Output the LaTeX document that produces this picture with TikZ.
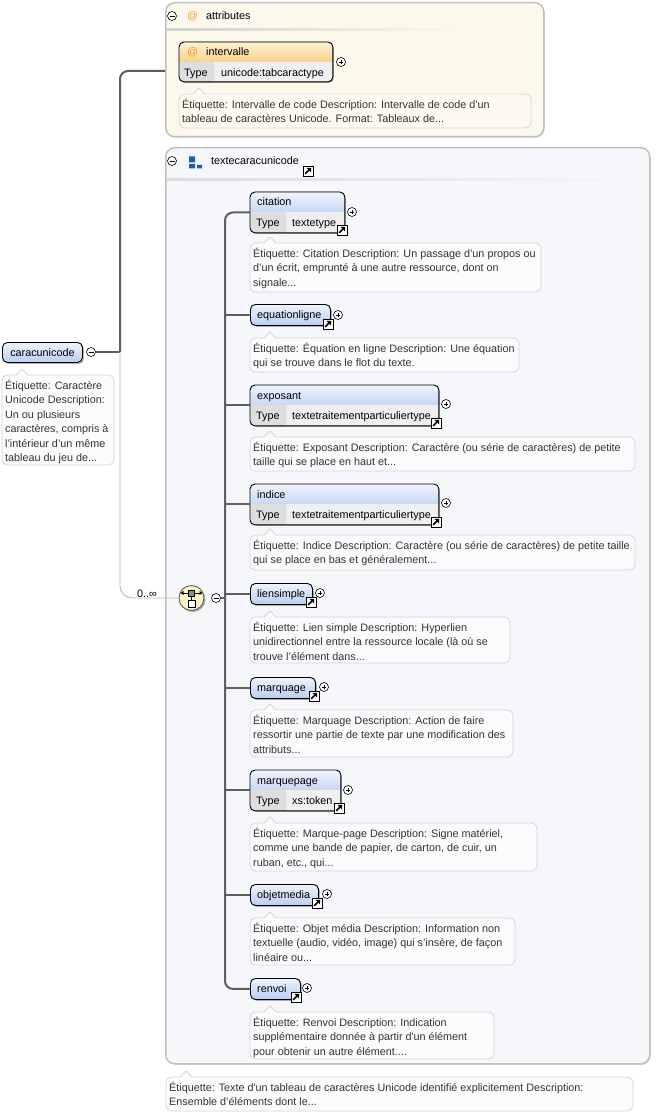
\documentclass[tikz,border=0pt]{standalone}
\usepackage{fontspec}
\setmainfont{Liberation Sans}[Ligatures=TeXOff]
\usetikzlibrary{shadows,calc}
\definecolor{connc}{HTML}{5E5E5E}
\definecolor{thinc}{HTML}{B8B8B8}
\definecolor{attrfill}{HTML}{FDF8EC}
\definecolor{grpfill}{HTML}{F6F7FB}
\definecolor{grpborder}{HTML}{C0C0C0}
\definecolor{blutop}{HTML}{EEF3FC}
\definecolor{blubot}{HTML}{B9CEF1}
\definecolor{hdtop}{HTML}{F0F4FC}
\definecolor{hdbot}{HTML}{C6D7F4}
\definecolor{typecell}{HTML}{DEDEDE}
\definecolor{valcell}{HTML}{EFEFEF}
\definecolor{orgtop}{HTML}{FEF0D4}
\definecolor{orgbot}{HTML}{F8D38C}
\definecolor{atc}{HTML}{E9A21F}
\definecolor{anntext}{HTML}{333333}
\definecolor{annborder}{HTML}{D6D6D6}
\definecolor{annfa}{HTML}{FEFAF1}
\definecolor{annfb}{HTML}{FBFBFD}
\definecolor{annfw}{HTML}{FCFCFC}
\definecolor{choicefill}{HTML}{FBF5C6}
\definecolor{iconblue}{HTML}{1F5FAA}

\newcommand\annot[7]{%
 \filldraw[fill=#6, draw=annborder, line width=0.8pt, rounded corners=6pt] (#2,#3) rectangle (#4,#5);
 \fill[#6] (#2+14,#3+1) -- (#2+20,#3-6) -- (#2+26,#3+1) -- cycle;
 \draw[annborder, line width=0.8pt] (#2+14,#3) -- (#2+20,#3-6) -- (#2+26,#3);
 \node[anntxt] (#1) at (#2+3,#3+5) {#7};}
\newcommand\plusc[2]{\node[pm] (#1) at (#2) {};
 \draw[line width=0.7pt] ([xshift=-2.3pt]#1.center) -- ([xshift=2.3pt]#1.center) ([yshift=-2.3pt]#1.center) -- ([yshift=2.3pt]#1.center);}
\newcommand\minusc[2]{\node[pm] (#1) at (#2) {};
 \draw[line width=0.7pt] ([xshift=-2.5pt]#1.center) -- ([xshift=2.5pt]#1.center);}
\newcommand\scico[2]{\node[sc] (#1) at (#2) {};
 \draw[line width=1.5pt] ([shift={(-2.8pt,-2.8pt)}]#1.center) -- ([shift={(1.2pt,1.2pt)}]#1.center);
 \fill ([shift={(3.2pt,3.2pt)}]#1.center) -- ([shift={(-1.6pt,3.2pt)}]#1.center) -- ([shift={(3.2pt,-1.6pt)}]#1.center) -- cycle;}
\newcommand\selem[5]{\node[selemnode, minimum width=#4pt] (#1) at (#2,#3) {};
 \node[lbl] (#1-l) at ([shift={(7pt,-4pt)}]#1.west) {#5};}
\newcommand\telem[6]{%
 \node[telemnode, minimum width=#4pt] (#1) at (#2,#3) {};
 \begin{scope}
 \clip[rounded corners=5pt] (#1.north west) rectangle (#1.south east);
 \shade[top color=hdtop, bottom color=hdbot] (#1.north west) rectangle (#1.east);
 \fill[typecell] (#1.west) rectangle ([xshift=36pt]#1.south west);
 \fill[valcell] ([xshift=36pt]#1.west) rectangle (#1.south east);
 \end{scope}
 \draw[line width=0.9pt, rounded corners=5pt] (#1.north west) rectangle (#1.south east);
 \node[lbl] (#1-l) at ([shift={(7pt,-14pt)}]#1.north west) {#5};
 \node[lbl] (#1-t) at ([shift={(6pt,-34.5pt)}]#1.north west) {Type};
 \node[lbl] (#1-v) at ([shift={(42pt,-34.5pt)}]#1.north west) {#6};}

\begin{document}
\begin{tikzpicture}[x=1pt,y=-1pt,
 every node/.style={font=\fontsize{10.8}{14.4}\selectfont},
 lbl/.style={anchor=base west, inner sep=0pt, text=black},
 anntxt/.style={anchor=north west, inner sep=0pt, align=left, text=anntext},
 conn/.style={draw=connc, line width=2pt},
 thinconn/.style={draw=thinc, line width=0.9pt},
 pm/.style={circle, draw=black, line width=0.6pt, fill=white, minimum size=9pt, inner sep=0pt},
 sc/.style={rectangle, draw=black, line width=0.8pt, fill=white, minimum size=10pt, inner sep=0pt},
 shd/.style={drop shadow={shadow xshift=1.5pt, shadow yshift=-1.5pt, opacity=0.3, fill=black}},
 lshd/.style={drop shadow={shadow xshift=1pt, shadow yshift=-1pt, opacity=0.15, fill=black}},
 grpnode/.style={anchor=north west, rectangle, rounded corners=9pt, draw=grpborder, line width=1.5pt, inner sep=0pt, lshd},
 selemnode/.style={anchor=north west, rectangle, rounded corners=5pt, draw=black, line width=0.9pt, top color=blutop, bottom color=blubot, minimum height=21pt, inner sep=0pt, shd},
 telemnode/.style={anchor=north west, rectangle, rounded corners=5pt, draw=black, line width=0.9pt, fill=white, minimum height=40pt, inner sep=0pt, shd}]
\useasboundingbox (0,0) rectangle (667,1115);
\fill[white] (0,0) rectangle (667,1115);

% ---------- attributes group ----------
\node[grpnode, fill=attrfill, minimum width=378pt, minimum height=134pt] (attrbox) at (165,2) {};
\minusc{attrminus}{172,16}
\node[lbl, text=atc] (attrat) at (187,20) {@};
\node[lbl] (attrlbl) at (206,20) {attributes};
\shade[left color=black!18, right color=attrfill] (167,29) rectangle (460,31);

\node[telemnode, minimum width=153pt, minimum height=39pt] (intervalle) at (179,42) {};
\begin{scope}
 \clip[rounded corners=5pt] (intervalle.north west) rectangle (intervalle.south east);
 \shade[top color=orgtop, bottom color=orgbot] (intervalle.north west) rectangle (intervalle.east);
 \fill[typecell] (intervalle.west) rectangle ([xshift=35pt]intervalle.south west);
 \fill[valcell] ([xshift=35pt]intervalle.west) rectangle (intervalle.south east);
\end{scope}
\draw[line width=0.9pt, rounded corners=5pt] (intervalle.north west) rectangle (intervalle.south east);
\node[lbl, text=atc] (intervalle-at) at (187,56) {@};
\node[lbl] (intervalle-l) at (206,56) {intervalle};
\node[lbl] (intervalle-t) at (184,76.5) {Type};
\node[lbl] (intervalle-v) at (221,76.5) {unicode:tabcaractype};
\plusc{intervalle-p}{341,62}
\annot{intervalle-a}{179}{94}{531}{128}{annfa}{Étiquette: Intervalle de code Description: Intervalle de code d’un\\tableau de caractères Unicode. Format: Tableaux de...}

% ---------- textecaracunicode group ----------
\node[grpnode, fill=grpfill, minimum width=484pt, minimum height=916pt] (txtbox) at (165,147) {};
\minusc{txtminus}{172,161}
\fill[iconblue] (189,156.5) rectangle (195,162.5) (189,164) rectangle (195,168.5) (197,165) rectangle (202,168.5);
\node[lbl] (txtlbl) at (211,165) {textecaracunicode};
\scico{txtsc}{308,171}
\shade[left color=black!14, right color=grpfill] (167,179) rectangle (640,181);

% ---------- root ----------
\node[selemnode, minimum width=80pt, minimum height=20pt] (caracunicode) at (2,342) {};
\node[anchor=base, inner sep=0pt] (caracunicode-l) at ([yshift=-4pt]caracunicode.center) {caracunicode};
\minusc{cmin}{91,352}
\annot{caracunicode-a}{2}{375}{114}{465}{annfw}{Étiquette: Caractère\\Unicode Description:\\Un ou plusieurs\\caractères, compris à\\l’intérieur d’un même\\tableau du jeu de...}

\coordinate (jn) at (120,352);
\coordinate (attrin) at (165,71);
\draw[conn] (cmin.east) -- (jn);
\draw[conn, rounded corners=8pt] (jn) |- (attrin);

% ---------- choice ----------
\node[circle, draw=connc, line width=0.9pt, fill=choicefill, minimum size=25pt, inner sep=0pt, shd] (choice) at (191.5,598) {};
\draw[line width=0.8pt] (182,593) -- (201,593);
\fill (180.5,593) -- (183.5,591) -- (183.5,595) -- cycle;
\fill (202.5,593) -- (199.5,591) -- (199.5,595) -- cycle;
\filldraw[fill=black!45, draw=black, line width=0.6pt] (188.5,590) rectangle (194.5,596);
\draw[line width=0.6pt] (191.5,596) -- (191.5,600);
\filldraw[fill=white, draw=black, line width=0.6pt] (188,600) rectangle (195,607);
\minusc{chminus}{216,598}
\draw[thinconn, rounded corners=12pt] (jn) |- (choice.west);
\node[lbl] (card) at (137,597) {0..∞};

% ---------- elements ----------
\telem{citation}{250}{192}{94}{citation}{textetype}
\plusc{citation-p}{352,212}
\scico{citation-sc}{342,230}
\annot{citation-a}{250}{243}{541}{292}{annfb}{Étiquette: Citation Description: Un passage d’un propos ou\\d’un écrit, emprunté à une autre ressource, dont on\\signale...}

\selem{equationligne}{250}{304}{80}{equationligne}
\plusc{equationligne-p}{338,315}
\scico{equationligne-sc}{328,324}
\annot{equationligne-a}{250}{338}{519}{372}{annfb}{Étiquette: Équation en ligne Description: Une équation\\qui se trouve dans le flot du texte.}

\telem{exposant}{250}{385}{188}{exposant}{textetraitementparticuliertype}
\plusc{exposant-p}{446,404}
\scico{exposant-sc}{436,423}
\annot{exposant-a}{250}{437}{635}{471}{annfb}{Étiquette: Exposant Description: Caractère (ou série de caractères) de petite\\taille qui se place en haut et...}

\telem{indice}{250}{484}{188}{indice}{textetraitementparticuliertype}
\plusc{indice-p}{446,503}
\scico{indice-sc}{436,522}
\annot{indice-a}{250}{535}{635}{570}{annfb}{Étiquette: Indice Description: Caractère (ou série de caractères) de petite taille\\qui se place en bas et généralement...}

\selem{liensimple}{250}{583}{62}{liensimple}
\plusc{liensimple-p}{320,593}
\scico{liensimple-sc}{311,602}
\annot{liensimple-a}{250}{617}{510}{663}{annfb}{Étiquette: Lien simple Description: Hyperlien\\unidirectionnel entre la ressource locale (là où se\\trouve l’élément dans...}

\selem{marquage}{250}{677}{65}{marquage}
\plusc{marquage-p}{324,687}
\scico{marquage-sc}{314,696}
\annot{marquage-a}{250}{710}{513}{757}{annfb}{Étiquette: Marquage Description: Action de faire\\ressortir une partie de texte par une modification des\\attributs...}

\telem{marquepage}{250}{770}{90}{marquepage}{xs:token}
\plusc{marquepage-p}{348,790}
\scico{marquepage-sc}{339,808}
\annot{marquepage-a}{250}{823}{537}{871}{annfb}{Étiquette: Marque-page Description: Signe matériel,\\comme une bande de papier, de carton, de cuir, un\\ruban, etc., qui...}

\selem{objetmedia}{250}{884}{68}{objetmedia}
\plusc{objetmedia-p}{327,894}
\scico{objetmedia-sc}{317,903}
\annot{objetmedia-a}{250}{918}{515}{965}{annfb}{Étiquette: Objet média Description: Information non\\textuelle (audio, vidéo, image) qui s’insère, de façon\\linéaire ou...}

\selem{renvoi}{250}{978}{50}{renvoi}
\plusc{renvoi-p}{307,988}
\scico{renvoi-sc}{296,997}
\annot{renvoi-a}{250}{1012}{494}{1059}{annfb}{Étiquette: Renvoi Description: Indication\\supplémentaire donnée à partir d'un élément\\pour obtenir un autre élément....}

% ---------- connectors to the elements ----------
\coordinate (bar) at (225,598);
\draw[conn] (chminus.east) -- (bar);
\draw[conn, rounded corners=8pt] (citation.west) -| (bar) |- (renvoi.west);
\foreach \e in {equationligne,exposant,indice,liensimple,marquage,marquepage,objetmedia}
 \draw[conn] (\e.west -| bar) -- (\e.west);

% ---------- bottom annotation ----------
\annot{txt-a}{166}{1077}{633}{1111}{annfw}{Étiquette: Texte d'un tableau de caractères Unicode identifié explicitement Description:\\Ensemble d’éléments dont le...}
\end{tikzpicture}
\end{document}
